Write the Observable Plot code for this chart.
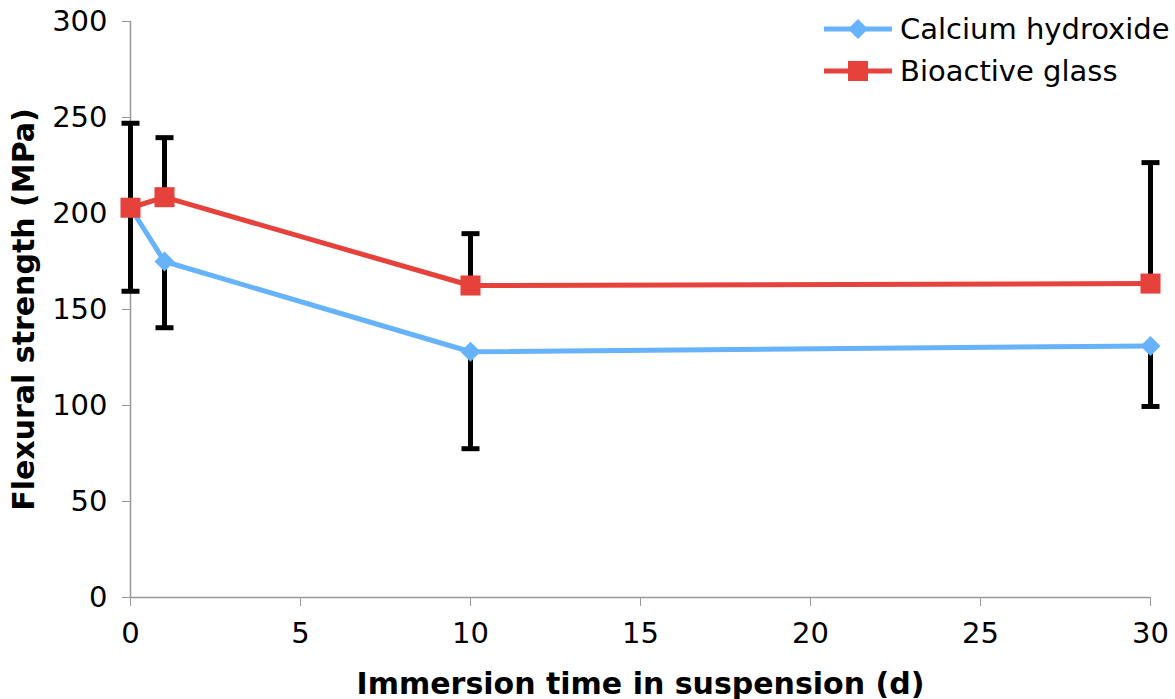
<!DOCTYPE html>
<html>
<head>
<meta charset="utf-8">
<script src="https://cdn.jsdelivr.net/npm/d3@7"></script>
<script src="https://cdn.jsdelivr.net/npm/@observablehq/plot@0.6"></script>
<style>
  html, body { margin: 0; padding: 0; background: #fff; }
  #wrap { position: relative; width: 1175px; height: 699px; font-family: "DejaVu Sans", Verdana, sans-serif; }
  #legend { position: absolute; left: 824px; top: 8px; font-size: 29px; color: #000; }
  .item { display: flex; align-items: center; height: 42px; }
  .item svg { margin-right: 8px; }
</style>
</head>
<body>
<div id="wrap"></div>
<script>
const days = [0, 1, 10, 30];
const seriesNames = ["Calcium hydroxide", "Bioactive glass"];
const seriesColors = ["#66b2fb", "#e6413a"];
const seriesSymbols = ["diamond2", "square"];
const calcium = [203, 175, 128, 131];
const bioactive = [203, 208.5, 162.5, 163.5];
const calciumLow = [159.5, 140.5, 77.5, 99.5];
const bioactiveHigh = [247, 239.5, 189.5, 226.5];
const xTicks = [0, 5, 10, 15, 20, 25, 30];
const yTicks = [0, 50, 100, 150, 200, 250, 300];

const calRows = days.map((d, i) => ({day: d, value: calcium[i], end: calciumLow[i], series: seriesNames[0]}));
const bioRows = days.map((d, i) => ({day: d, value: bioactive[i], end: bioactiveHigh[i], series: seriesNames[1]}));
const errRows = calRows.concat(bioRows);

const cap = { draw(context, size) { context.moveTo(-9, 0); context.lineTo(9, 0); } };

const plot = Plot.plot({
  width: 1175,
  height: 699,
  marginLeft: 130,
  marginRight: 25,
  marginTop: 21,
  marginBottom: 102,
  style: { fontFamily: "DejaVu Sans, Verdana, sans-serif", fontSize: "29px", color: "#000", background: "#fff", overflow: "visible" },
  x: { domain: [0, 30] },
  y: { domain: [0, 300] },
  color: { domain: seriesNames, range: seriesColors },
  marks: [
    Plot.ruleY([0], { stroke: "#999", strokeWidth: 1.5 }),
    Plot.ruleX([0], { stroke: "#999", strokeWidth: 1.5 }),
    Plot.axisX({ ticks: xTicks, tickSize: 9, tickPadding: 16, stroke: "#999", fill: "#000", label: "Immersion time in suspension (d)", labelAnchor: "center", labelArrow: "none", labelOffset: 96 }),
    Plot.axisY({ ticks: yTicks, tickSize: 8, tickPadding: 15, stroke: "#999", fill: "#000", label: "Flexural strength (MPa)", labelAnchor: "center", labelArrow: "none", labelOffset: 118 }),
    Plot.ruleX(errRows, { x: "day", y1: "value", y2: "end", stroke: "#000", strokeWidth: 5 }),
    Plot.dot(errRows, { x: "day", y: "end", symbol: cap, stroke: "#000", strokeWidth: 5, fill: "none" }),
    Plot.line(calRows, { x: "day", y: "value", stroke: "series", strokeWidth: 5 }),
    Plot.dot(calRows, { x: "day", y: "value", fill: "series", symbol: seriesSymbols[0], r: 9 }),
    Plot.line(bioRows, { x: "day", y: "value", stroke: "series", strokeWidth: 5 }),
    Plot.dot(bioRows, { x: "day", y: "value", fill: "series", symbol: seriesSymbols[1], r: 11.3 })
  ]
});

// bold, larger axis titles
d3.select(plot).selectAll("[aria-label='x-axis label'] text, [aria-label='y-axis label'] text")
  .attr("font-weight", "bold").attr("font-size", "30px");

const wrap = document.getElementById("wrap");
wrap.appendChild(plot);

const legend = d3.select(wrap).append("div").attr("id", "legend");
seriesNames.forEach((name, i) => {
  const item = legend.append("div").attr("class", "item");
  const sw = item.append("svg").attr("width", 68).attr("height", 24);
  sw.append("line").attr("x1", 0).attr("x2", 68).attr("y1", 12).attr("y2", 12)
    .attr("stroke", seriesColors[i]).attr("stroke-width", 5);
  sw.append("path").attr("transform", "translate(34,12)")
    .attr("d", d3.symbol(i === 0 ? d3.symbolDiamond2 : d3.symbolSquare, Math.PI * (i === 0 ? 81 : 128)))
    .attr("fill", seriesColors[i]);
  item.append("span").text(name);
});
</script>
</body>
</html>
